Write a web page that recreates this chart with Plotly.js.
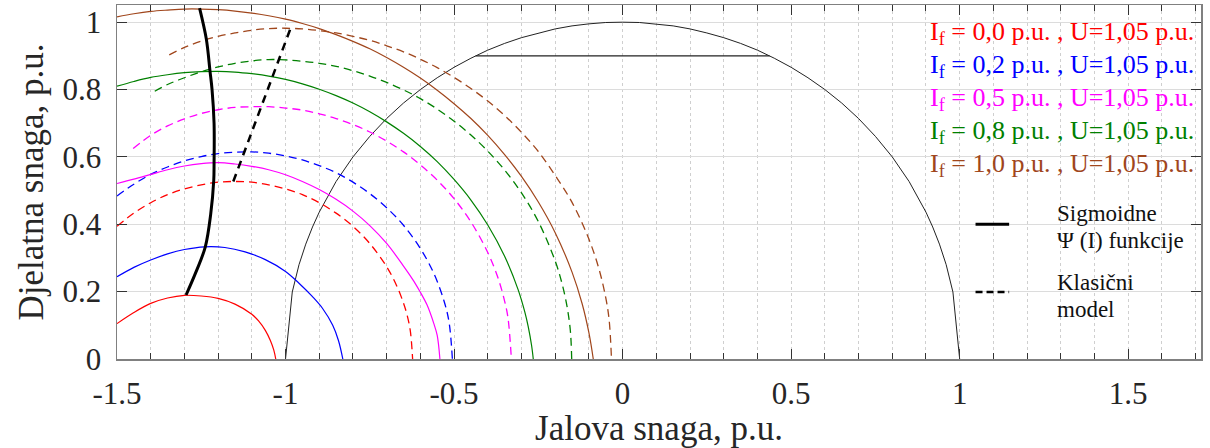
<!DOCTYPE html>
<html>
<head>
<meta charset="utf-8">
<script src="https://cdn.plot.ly/plotly-3.0.1.min.js"></script>
<style>html,body{margin:0;padding:0;background:#fff;}#chart{width:1210px;height:448px;}</style>
</head>
<body>
<div id="chart"></div>
<script>
// ---------- data ----------
// Sigmoid Psi(I) model, U = 1.05 p.u.
const Q_s00 = [-1.5,-1.45,-1.40,-1.35,-1.30,-1.25,-1.20,-1.15,-1.10,-1.08,-1.06,-1.045,-1.035,-1.029];
const P_s00 = [0.105,0.138,0.165,0.181,0.189,0.187,0.180,0.163,0.133,0.113,0.085,0.055,0.027,0.0];

const Q_s02 = [-1.5,-1.45,-1.40,-1.35,-1.30,-1.24,-1.18,-1.12,-1.06,-1.0,-0.96,-0.92,-0.89,-0.86,-0.843,-0.83];
const P_s02 = [0.244,0.272,0.294,0.312,0.325,0.333,0.331,0.318,0.295,0.26,0.225,0.185,0.15,0.10,0.055,0.0];

const Q_s05 = [-1.5,-1.45,-1.40,-1.35,-1.30,-1.25,-1.20,-1.15,-1.10,-1.05,-1.0,-0.95,-0.90,-0.85,-0.80,-0.75,-0.70,-0.65,-0.62,-0.60,-0.58,-0.56,-0.55,-0.542];
const P_s05 = [0.521,0.534,0.548,0.562,0.573,0.580,0.583,0.579,0.572,0.562,0.547,0.527,0.503,0.474,0.439,0.396,0.343,0.276,0.232,0.198,0.160,0.105,0.070,0.0];

const Q_s08 = [-1.5,-1.45,-1.40,-1.35,-1.30,-1.25,-1.20,-1.15,-1.10,-1.05,-1.0,-0.95,-0.90,-0.85,-0.80,-0.75,-0.70,-0.65,-0.60,-0.55,-0.50,-0.45,-0.40,-0.35,-0.31,-0.29,-0.28,-0.27,-0.265];
const P_s08 = [0.810,0.824,0.836,0.844,0.850,0.853,0.854,0.852,0.847,0.840,0.830,0.817,0.801,0.782,0.760,0.734,0.704,0.670,0.631,0.586,0.533,0.472,0.398,0.305,0.206,0.139,0.096,0.040,0.0];

const Q_s10 = [-1.5,-1.45,-1.40,-1.35,-1.30,-1.25,-1.20,-1.15,-1.10,-1.05,-1.0,-0.95,-0.90,-0.85,-0.80,-0.75,-0.70,-0.65,-0.60,-0.55,-0.50,-0.45,-0.40,-0.35,-0.30,-0.25,-0.20,-0.15,-0.12,-0.10,-0.087];
const P_s10 = [1.016,1.025,1.032,1.036,1.039,1.039,1.037,1.033,1.027,1.019,1.009,0.996,0.981,0.963,0.943,0.921,0.895,0.866,0.834,0.798,0.758,0.714,0.664,0.607,0.542,0.466,0.375,0.258,0.164,0.078,0.0];

// Classical model, U = 1.05 p.u.
const Q_c00 = [-1.5,-1.45,-1.40,-1.35,-1.30,-1.25,-1.20,-1.15,-1.10,-1.05,-1.0,-0.95,-0.90,-0.85,-0.80,-0.75,-0.70,-0.67,-0.65,-0.64,-0.63,-0.623];
const P_c00 = [0.394,0.433,0.464,0.488,0.505,0.517,0.525,0.527,0.525,0.517,0.505,0.488,0.464,0.433,0.394,0.343,0.274,0.217,0.166,0.133,0.085,0.0];

const Q_c02 = [-1.5,-1.45,-1.40,-1.35,-1.30,-1.25,-1.20,-1.15,-1.10,-1.05,-1.0,-0.95,-0.90,-0.85,-0.80,-0.75,-0.70,-0.65,-0.60,-0.56,-0.53,-0.515,-0.505];
const P_c02 = [0.484,0.519,0.548,0.570,0.588,0.601,0.610,0.614,0.615,0.611,0.603,0.591,0.574,0.553,0.525,0.491,0.449,0.397,0.328,0.254,0.173,0.110,0.0];

const Q_c05 = [-1.452,-1.40,-1.35,-1.30,-1.25,-1.20,-1.15,-1.10,-1.05,-1.0,-0.95,-0.90,-0.85,-0.80,-0.75,-0.70,-0.65,-0.60,-0.55,-0.50,-0.45,-0.40,-0.37,-0.35,-0.34,-0.33];
const P_c05 = [0.625,0.664,0.692,0.713,0.729,0.740,0.747,0.749,0.749,0.745,0.739,0.728,0.714,0.696,0.674,0.647,0.615,0.576,0.531,0.476,0.407,0.316,0.242,0.172,0.122,0.0];

const Q_c08 = [-1.388,-1.35,-1.30,-1.25,-1.20,-1.15,-1.10,-1.05,-1.0,-0.95,-0.90,-0.85,-0.80,-0.75,-0.70,-0.65,-0.60,-0.55,-0.50,-0.45,-0.40,-0.35,-0.30,-0.25,-0.20,-0.18,-0.165,-0.155,-0.151];
const P_c08 = [0.795,0.815,0.835,0.853,0.867,0.878,0.885,0.889,0.888,0.884,0.878,0.869,0.856,0.840,0.821,0.799,0.773,0.742,0.706,0.665,0.617,0.561,0.493,0.408,0.291,0.225,0.157,0.084,0.0];

const Q_c10 = [-1.345,-1.30,-1.25,-1.20,-1.15,-1.10,-1.05,-1.0,-0.95,-0.90,-0.85,-0.80,-0.75,-0.70,-0.65,-0.60,-0.55,-0.50,-0.45,-0.40,-0.35,-0.30,-0.25,-0.20,-0.15,-0.10,-0.07,-0.05,-0.04,-0.033];
const P_c10 = [0.903,0.925,0.944,0.958,0.968,0.976,0.981,0.982,0.980,0.975,0.968,0.958,0.946,0.930,0.912,0.890,0.865,0.836,0.803,0.766,0.723,0.673,0.616,0.545,0.465,0.356,0.267,0.182,0.117,0.0];

// Loci of the maxima
const Q_locusSig = [-1.295,-1.265,-1.238,-1.222,-1.213,-1.212,-1.212,-1.218,-1.224,-1.235,-1.255];
const P_locusSig = [0.19,0.26,0.333,0.43,0.53,0.582,0.70,0.80,0.854,0.95,1.042];
const Q_locusCls = [-1.155,-1.122,-1.073,-1.02,-0.985];
const P_locusCls = [0.527,0.615,0.748,0.888,0.982];

// Stator current limit (S = 1 p.u.) and P limit
const Q_cap = [1,0.98,0.96,0.94,0.92,0.9,0.85,0.8,0.75,0.7,0.65,0.6,0.55,0.5,0.45,0.4,0.35,0.3,0.25,0.2,0.15,0.1,0.05,0,
  -0.05,-0.1,-0.15,-0.2,-0.25,-0.3,-0.35,-0.4,-0.45,-0.5,-0.55,-0.6,-0.65,-0.7,-0.75,-0.8,-0.85,-0.9,-0.92,-0.94,-0.96,-0.98,-1];
const P_cap = [0,0.199,0.280,0.341,0.392,0.436,0.527,0.600,0.661,0.714,0.760,0.800,0.835,0.866,0.893,0.917,0.937,0.954,0.968,0.980,0.989,0.995,0.999,1,
  0.999,0.995,0.989,0.980,0.968,0.954,0.937,0.917,0.893,0.866,0.835,0.800,0.760,0.714,0.661,0.600,0.527,0.436,0.392,0.341,0.280,0.199,0];
const Q_pmax = [-0.436,0.436];
const P_pmax = [0.9,0.9];

const xTickVals = [-1.5,-1,-0.5,0,0.5,1,1.5];
const xTickText = ['-1.5','-1','-0.5','0','0.5','1','1.5'];
const yTickVals = [0,0.2,0.4,0.6,0.8,1];
const yTickText = ['0','0.2','0.4','0.6','0.8','1'];

const SUBF = 'I<sub style="font-size:22px">f</sub>';
const legendLabels = [SUBF+' = 0,0 p.u. , U=1,05 p.u.',SUBF+' = 0,2 p.u. , U=1,05 p.u.',SUBF+' = 0,5 p.u. , U=1,05 p.u.',SUBF+' = 0,8 p.u. , U=1,05 p.u.',SUBF+' = 1,0 p.u. , U=1,05 p.u.'];
const seriesColors = ['#ff0000','#0000ff','#ff00ff','#008000','#a0461c'];

// ---------- traces ----------
const FONT = 'Liberation Serif, Times New Roman, serif';
const sigQ = [Q_s00,Q_s02,Q_s05,Q_s08,Q_s10], sigP = [P_s00,P_s02,P_s05,P_s08,P_s10];
const clsQ = [Q_c00,Q_c02,Q_c05,Q_c08,Q_c10], clsP = [P_c00,P_c02,P_c05,P_c08,P_c10];
const traces = [];
traces.push({x:Q_cap,y:P_cap,mode:'lines',line:{color:'#222',width:1},hoverinfo:'skip'});
traces.push({x:Q_pmax,y:P_pmax,mode:'lines',line:{color:'#222',width:1.2},hoverinfo:'skip'});
for (let i=0;i<5;i++){
  traces.push({x:sigQ[i],y:sigP[i],mode:'lines',line:{color:seriesColors[i],width:1.2,shape:'spline'}});
  traces.push({x:clsQ[i],y:clsP[i],mode:'lines',line:{color:seriesColors[i],width:1.3,shape:'spline',dash:'8px,5px'}});
}
traces.push({x:Q_locusSig,y:P_locusSig,mode:'lines',line:{color:'#000',width:3,shape:'spline'}});
traces.push({x:Q_locusCls,y:P_locusCls,mode:'lines',line:{color:'#000',width:2.5,dash:'8px,6px'}});

// ---------- annotations ----------
const ann = [];
const legY = [0.922,0.829,0.735,0.642,0.549];
for (let i=0;i<5;i++){
  ann.push({xref:'paper',yref:'paper',x:0.748,y:legY[i],xanchor:'left',yanchor:'middle',showarrow:false,
    text:legendLabels[i],font:{family:FONT,size:26,color:seriesColors[i]}});
}
const txt2 = [['Sigmoidne',0.412],['\u03A8 (I) funkcije',0.336],['Klasi\u010Dni',0.215],['model',0.141]];
txt2.forEach(t=>ann.push({xref:'paper',yref:'paper',x:0.865,y:t[1],xanchor:'left',yanchor:'middle',showarrow:false,
  text:t[0],font:{family:FONT,size:23,color:'#111'}}));

const shapes = [
  {type:'line',xref:'paper',yref:'paper',x0:0.792,x1:0.823,y0:0.381,y1:0.381,line:{color:'#000',width:3}},
  {type:'line',xref:'paper',yref:'paper',x0:0.792,x1:0.823,y0:0.189,y1:0.189,line:{color:'#000',width:2.5,dash:'7px,4px'}}
];

const layout = {
  width:1210,height:448,
  margin:{l:117,r:9,t:5,b:89},
  paper_bgcolor:'#fff',plot_bgcolor:'#fff',
  showlegend:false,
  font:{family:FONT,color:'#262626'},
  xaxis:{range:[-1.5,1.716],tickmode:'array',tickvals:xTickVals,ticktext:xTickText,
    ticks:'inside',ticklen:10,tickwidth:1,tickcolor:'#333',
    showline:true,linecolor:'#808080',linewidth:1.5,mirror:'ticks',
    showgrid:false,zeroline:false,
    tickfont:{family:FONT,size:31,color:'#262626'},ticklabelstandoff:6,
    minor:{dtick:0.1,tick0:0,ticks:'inside',ticklen:6,tickcolor:'#333',showgrid:true,gridcolor:'#cfcfcf',griddash:'dot',gridwidth:1},
    title:{text:'Jalova snaga, p.u.',font:{family:FONT,size:35,color:'#262626'},standoff:6}},
  yaxis:{range:[0,1.051],tickmode:'array',tickvals:yTickVals,ticktext:yTickText,
    ticks:'inside',ticklen:10,tickwidth:1,tickcolor:'#333',
    showline:true,linecolor:'#808080',linewidth:1.5,mirror:'ticks',
    showgrid:true,gridcolor:'#dcdcdc',gridwidth:1,zeroline:false,
    tickfont:{family:FONT,size:31,color:'#262626'},ticklabelstandoff:8,
    title:{text:'Djelatna snaga, p.u.',font:{family:FONT,size:35,color:'#262626'},standoff:8}},
  annotations:ann,
  shapes:shapes
};
Plotly.newPlot('chart',traces,layout,{displayModeBar:false,staticPlot:true});
</script>
</body>
</html>
